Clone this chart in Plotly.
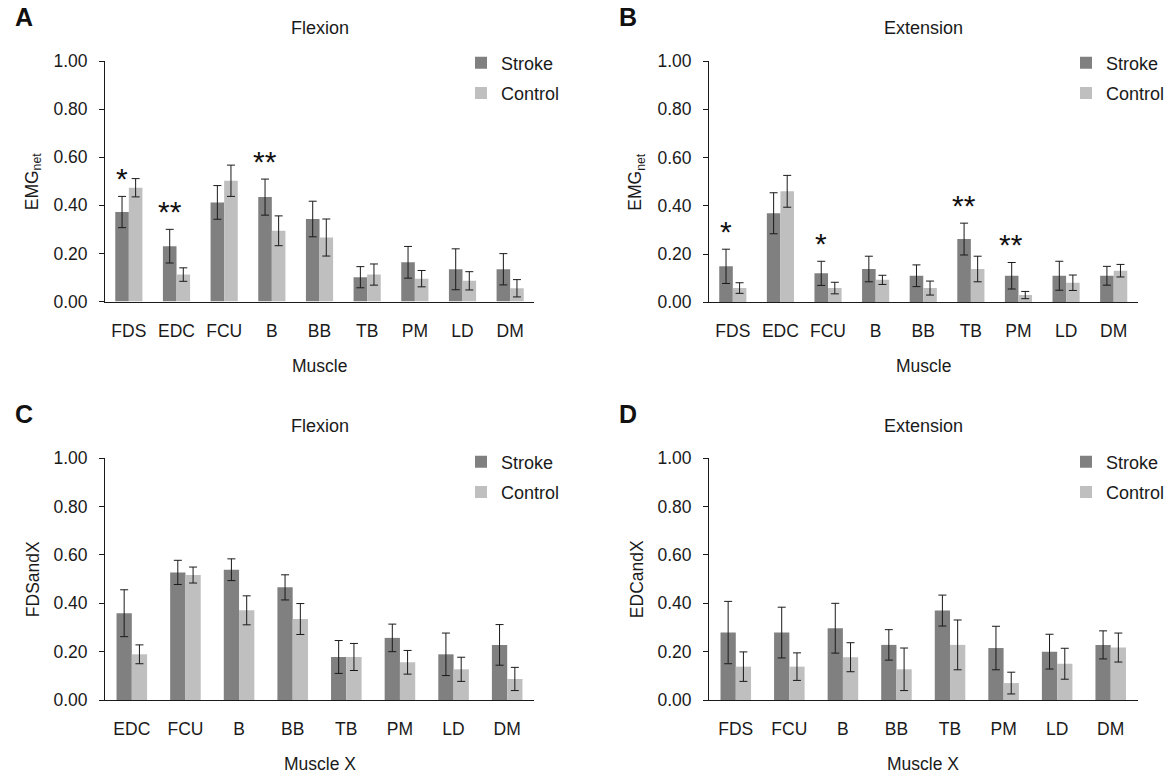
import plotly.graph_objects as go

W, H = 1169, 775

# ---------------- data ----------------
muscles_ab = ["FDS", "EDC", "FCU", "B", "BB", "TB", "PM", "LD", "DM"]
muscles_c = ["EDC", "FCU", "B", "BB", "TB", "PM", "LD", "DM"]
muscles_d = ["FDS", "FCU", "B", "BB", "TB", "PM", "LD", "DM"]

a_stroke = [0.372, 0.230, 0.412, 0.434, 0.343, 0.101, 0.163, 0.134, 0.134]
a_stroke_err = [0.065, 0.070, 0.070, 0.075, 0.074, 0.044, 0.066, 0.085, 0.065]
a_control = [0.473, 0.112, 0.502, 0.294, 0.266, 0.112, 0.095, 0.086, 0.055]
a_control_err = [0.038, 0.028, 0.065, 0.062, 0.077, 0.044, 0.034, 0.038, 0.036]
a_stars = ["*", "**", "", "**", "", "", "", "", ""]

b_stroke = [0.149, 0.369, 0.120, 0.138, 0.110, 0.262, 0.110, 0.110, 0.110]
b_stroke_err = [0.071, 0.085, 0.050, 0.053, 0.045, 0.066, 0.055, 0.060, 0.039]
b_control = [0.059, 0.460, 0.059, 0.093, 0.059, 0.138, 0.030, 0.081, 0.131]
b_control_err = [0.022, 0.066, 0.024, 0.019, 0.029, 0.053, 0.015, 0.032, 0.026]
b_stars = ["*", "", "*", "", "", "**", "**", "", ""]

c_stroke = [0.359, 0.528, 0.539, 0.466, 0.178, 0.257, 0.189, 0.228]
c_stroke_err = [0.097, 0.050, 0.045, 0.052, 0.068, 0.057, 0.088, 0.084]
c_control = [0.189, 0.517, 0.371, 0.335, 0.178, 0.156, 0.127, 0.087]
c_control_err = [0.039, 0.033, 0.060, 0.064, 0.056, 0.049, 0.050, 0.048]
c_stars = [""] * 8

d_stroke = [0.279, 0.279, 0.297, 0.228, 0.370, 0.215, 0.200, 0.228]
d_stroke_err = [0.129, 0.105, 0.103, 0.063, 0.064, 0.090, 0.072, 0.058]
d_control = [0.138, 0.138, 0.177, 0.127, 0.228, 0.070, 0.150, 0.217]
d_control_err = [0.061, 0.057, 0.060, 0.088, 0.103, 0.045, 0.064, 0.060]
d_stars = [""] * 8

y_ticks = [0, 0.2, 0.4, 0.6, 0.8, 1.0]

# ---------------- style ----------------
FONT = "Liberation Sans, Arial, Helvetica, sans-serif"
TXT = "#1a1a1a"
C_STROKE = "#808080"
C_CONTROL = "#bfbfbf"
ERR = "#1a1a1a"

panels = [
    dict(letter="A", title="Flexion", ytitle="EMG<sub>net</sub>", xtitle="Muscle",
         cats=muscles_ab, s=a_stroke, se=a_stroke_err, c=a_control, ce=a_control_err, stars=a_stars,
         px=(105, 534), py=(61, 301.5), lx=461, ly=44.5),
    dict(letter="B", title="Extension", ytitle="EMG<sub>net</sub>", xtitle="Muscle",
         cats=muscles_ab, s=b_stroke, se=b_stroke_err, c=b_control, ce=b_control_err, stars=b_stars,
         px=(709, 1137.5), py=(61, 302.3), lx=1066, ly=44.5),
    dict(letter="C", title="Flexion", ytitle="FDSandX", xtitle="Muscle X",
         cats=muscles_c, s=c_stroke, se=c_stroke_err, c=c_control, ce=c_control_err, stars=c_stars,
         px=(105, 534), py=(458.3, 700), lx=461, ly=443.5),
    dict(letter="D", title="Extension", ytitle="EDCandX", xtitle="Muscle X",
         cats=muscles_d, s=d_stroke, se=d_stroke_err, c=d_control, ce=d_control_err, stars=d_stars,
         px=(709, 1137.5), py=(458.3, 700), lx=1066, ly=443.5),
]

fig = go.Figure()
layout = dict(
    template="none",
    width=W, height=H,
    margin=dict(l=0, r=0, t=0, b=0, autoexpand=False),
    paper_bgcolor="white", plot_bgcolor="white",
    font=dict(family=FONT, color=TXT, size=17.5),
    barmode="group", bargap=0.43, bargroupgap=0,
    annotations=[],
)

for i, p in enumerate(panels):
    n = "" if i == 0 else str(i + 1)
    xa, ya = "x" + n, "y" + n
    leg = "legend" + n
    x0, x1 = p["px"][0] / W, p["px"][1] / W
    y0, y1 = 1 - p["py"][1] / H, 1 - p["py"][0] / H

    fig.add_trace(go.Bar(
        x=p["cats"], y=p["s"], name="Stroke", marker=dict(color=C_STROKE, line=dict(width=0)),
        error_y=dict(type="data", array=p["se"], visible=True, color=ERR, thickness=1, width=4),
        xaxis=xa, yaxis=ya, legend=leg, legendgroup="s" + n, offsetgroup="s",
    ))
    fig.add_trace(go.Bar(
        x=p["cats"], y=p["c"], name="Control", marker=dict(color=C_CONTROL, line=dict(width=0)),
        error_y=dict(type="data", array=p["ce"], visible=True, color=ERR, thickness=1, width=4),
        xaxis=xa, yaxis=ya, legend=leg, legendgroup="c" + n, offsetgroup="c",
    ))

    layout["xaxis" + n] = dict(
        domain=[x0, x1], anchor=ya, type="category", automargin=False,
        showline=True, linecolor="#1a1a1a", linewidth=1,
        ticks="outside", ticklen=13, tickcolor="rgba(0,0,0,0)",
        tickfont=dict(size=17.5, color=TXT), showgrid=False, zeroline=False,
    )
    layout["yaxis" + n] = dict(
        domain=[y0, y1], anchor=xa, range=[0, 1], automargin=False,
        tickvals=y_ticks, tickformat=".2f",
        showline=True, linecolor="#1a1a1a", linewidth=1,
        ticks="outside", ticklen=5, tickcolor="#1a1a1a", tickwidth=1,
        ticklabelstandoff=8,
        tickfont=dict(size=17.5, color=TXT), showgrid=False, zeroline=False,
    )
    layout[leg] = dict(
        x=p["lx"] / W, y=1 - p["ly"] / H, xref="container", yref="container",
        xanchor="left", yanchor="top",
        bgcolor="rgba(0,0,0,0)", borderwidth=0,
        font=dict(size=18, color=TXT), tracegroupgap=4, traceorder="grouped",
        itemclick=False, itemdoubleclick=False,
    )

    cx = (p["px"][0] + p["px"][1]) / 2
    # panel letter
    layout["annotations"].append(dict(
        text="<b>%s</b>" % p["letter"], xref="paper", yref="paper",
        x=(p["px"][0] - 81) / W, y=1 - (p["py"][0] - 44) / H,
        xanchor="center", yanchor="middle", showarrow=False,
        font=dict(size=25, color="#111111", family=FONT)))
    # title
    layout["annotations"].append(dict(
        text=p["title"], xref="paper", yref="paper",
        x=cx / W, y=1 - (p["py"][0] - 32.5) / H,
        xanchor="center", yanchor="middle", showarrow=False,
        font=dict(size=18, color=TXT)))
    # y title
    layout["annotations"].append(dict(
        text=p["ytitle"], xref="paper", yref="paper", textangle=-90,
        x=(p["px"][0] - 72) / W, y=1 - ((p["py"][0] + p["py"][1]) / 2) / H,
        xanchor="center", yanchor="middle", showarrow=False,
        font=dict(size=17.5, color=TXT)))
    # x title
    layout["annotations"].append(dict(
        text=p["xtitle"], xref="paper", yref="paper",
        x=cx / W, y=1 - (p["py"][1] + 64) / H,
        xanchor="center", yanchor="middle", showarrow=False,
        font=dict(size=17.5, color=TXT)))
    # significance stars above stroke bars
    for cat, val, err, st in zip(p["cats"], p["s"], p["se"], p["stars"]):
        if st:
            layout["annotations"].append(dict(
                text=st, xref=xa, yref=ya, x=cat, y=val + err,
                xshift=-7, yshift=-1, xanchor="center", yanchor="bottom",
                showarrow=False, font=dict(size=30, color="#111111")))

fig.update_layout(**layout)
fig.write_html(
    "out.html",
    config={"displayModeBar": False},
    post_script="document.body.style.margin='0';document.body.style.overflow='hidden';",
)
